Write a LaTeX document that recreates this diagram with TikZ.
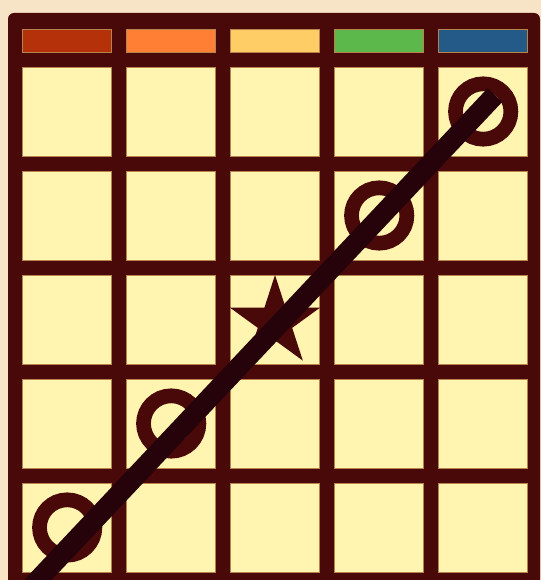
\documentclass[tikz,border=0pt]{standalone}
\usetikzlibrary{shapes.geometric}

\definecolor{paper}{HTML}{F7E3C6}
\definecolor{frame}{HTML}{4A0909}
\definecolor{slashcol}{HTML}{26030A}
\definecolor{cellfill}{HTML}{FFF4B0}
\definecolor{celledge}{HTML}{B8844E}
\definecolor{hrust}{HTML}{B5310A}
\definecolor{horange}{HTML}{FF7F35}
\definecolor{hyellow}{HTML}{FFCD65}
\definecolor{hgreen}{HTML}{5DB84B}
\definecolor{hblue}{HTML}{245A88}

\begin{document}
\begin{tikzpicture}[x=1pt,y=-1pt,
  cell/.style={draw=celledge,line width=0.6pt,fill=cellfill,inner sep=0pt,minimum width=89pt,minimum height=89pt},
  header/.style={draw=celledge,line width=0.6pt,inner sep=0pt,minimum width=89pt,minimum height=23.3pt},
  ring/.style={circle,draw=frame,line width=14.7pt,inner sep=0pt,minimum size=55.4pt},
  slash/.style={draw=slashcol,line width=20pt}]
  \useasboundingbox (0,0) rectangle (541,580);
  \clip (0,0) rectangle (541,580);
  \fill[paper] (0,0) rectangle (541,580);
  \fill[frame,rounded corners=6pt] (8,13) rectangle (540,600);

  % header strip
  \foreach \c/\col in {1/hrust,2/horange,3/hyellow,4/hgreen,5/hblue}
    \node[header,fill=\col] (h\c) at ({67.2+104*(\c-1)},40.7) {};

  % card cells
  \foreach \r in {1,...,5}
    \foreach \c in {1,...,5}
      \node[cell] (c\r\c) at ({67.2+104*(\c-1)},{111.5+104*(\r-1)}) {};

  % marks
  \foreach \n in {15,24,42,51}
    \node[ring] (ring\n) at (c\n) {};
  \node[star,star points=5,star point ratio=2.618,fill=frame,inner sep=0pt,minimum size=94.6pt] (freestar) at (275,322.3) {};

  \coordinate (slashstart) at (19,600);
  \coordinate (slashend) at (495,95);
  \draw[slash] (slashstart) -- (slashend);
\end{tikzpicture}
\end{document}
